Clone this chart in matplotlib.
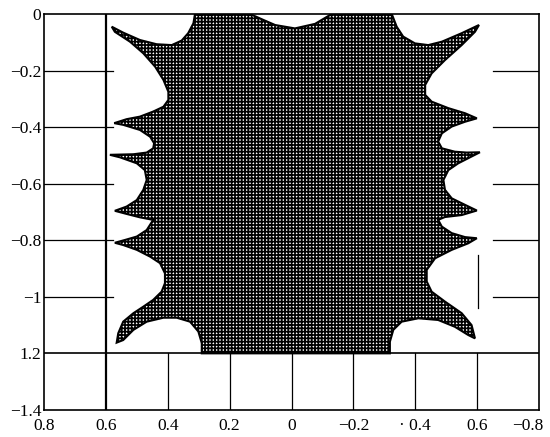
import matplotlib
matplotlib.use("Agg")
from matplotlib import pyplot as plt
from matplotlib.transforms import ScaledTranslation

# boundary of the hatched region
left_x = [0.312, 0.317, 0.334, 0.355, 0.387, 0.436, 0.490, 0.544, 0.581, 0.571, 0.522, 0.479, 0.441, 0.414, 0.398,
          0.398, 0.414, 0.447, 0.490, 0.533, 0.573, 0.544, 0.490, 0.457, 0.444, 0.447, 0.468, 0.511, 0.587, 0.554,
          0.500, 0.474, 0.468, 0.479, 0.500, 0.533, 0.571, 0.533, 0.490, 0.447, 0.468, 0.500, 0.538, 0.571, 0.544,
          0.500, 0.457, 0.425, 0.409, 0.409, 0.420, 0.447, 0.479, 0.511, 0.544, 0.560, 0.565, 0.544, 0.511, 0.468,
          0.414, 0.371, 0.328, 0.301, 0.290, 0.290]
left_y = [0, -0.033, -0.068, -0.094, -0.110, -0.107, -0.092, -0.066, -0.045, -0.063, -0.098, -0.139, -0.186, -0.233,
          -0.275, -0.304, -0.328, -0.345, -0.363, -0.372, -0.386, -0.392, -0.410, -0.434, -0.457, -0.475, -0.490,
          -0.496, -0.498, -0.507, -0.528, -0.552, -0.587, -0.622, -0.658, -0.681, -0.696, -0.707, -0.719, -0.728,
          -0.764, -0.787, -0.799, -0.809, -0.817, -0.834, -0.858, -0.881, -0.917, -0.952, -0.982, -1.011, -1.035,
          -1.058, -1.088, -1.129, -1.162, -1.153, -1.117, -1.088, -1.074, -1.074, -1.088, -1.123, -1.164, -1.2]
right_x = [-0.318, -0.318, -0.329, -0.356, -0.410, -0.474, -0.528, -0.571, -0.593, -0.582, -0.550, -0.496, -0.453,
           -0.437, -0.437, -0.464, -0.518, -0.571, -0.599, -0.561, -0.518, -0.486, -0.474, -0.496, -0.550, -0.599,
           -0.561, -0.518, -0.496, -0.491, -0.507, -0.539, -0.582, -0.609, -0.566, -0.528, -0.486, -0.474, -0.486,
           -0.518, -0.561, -0.599, -0.561, -0.507, -0.453, -0.432, -0.432, -0.453, -0.496, -0.550, -0.593, -0.606,
           -0.550, -0.486, -0.442, -0.399, -0.361, -0.340, -0.324]
right_y = [-1.2, -1.159, -1.117, -1.088, -1.076, -1.082, -1.106, -1.135, -1.147, -1.100, -1.058, -1.017, -0.982,
           -0.946, -0.905, -0.864, -0.834, -0.811, -0.793, -0.789, -0.775, -0.752, -0.728, -0.718, -0.711, -0.695,
           -0.675, -0.652, -0.622, -0.587, -0.552, -0.528, -0.504, -0.489, -0.490, -0.487, -0.475, -0.451, -0.422,
           -0.398, -0.381, -0.369, -0.351, -0.333, -0.310, -0.286, -0.251, -0.210, -0.163, -0.110, -0.063, -0.039,
           -0.068, -0.098, -0.110, -0.104, -0.080, -0.045, 0]
top_x = [-0.130, -0.076, -0.011, 0.053, 0.091, 0.134]
top_y = [0, -0.035, -0.051, -0.039, -0.021, 0]

xticks = [0.8, 0.6, 0.4, 0.2, 0, -0.2, -0.4, -0.6, -0.8]
xlabels = ["0.8", "0.6", "0.4", "0.2", "0", "\u22120.2", "\u00b7 0.4", "0.6", "\u22120.8"]
yticks = [0, -0.2, -0.4, -0.6, -0.8, -1.0, -1.2, -1.4]
ylabels = ["0", "\u22120.2", "\u22120.4", "\u22120.6", "\u22120.8", "\u22121", "1.2", "\u22121.4"]

plt.rcParams['font.family'] = ['Liberation Serif', 'DejaVu Serif']
plt.rcParams['hatch.linewidth'] = 1.25

fig = plt.figure(figsize=(5.5, 4.37), dpi=100)
ax = fig.add_axes([0.08, 0.062, 0.90, 0.906])

xs = left_x + right_x + top_x
ys = left_y + right_y + top_y
ax.fill(xs, ys, facecolor='white', edgecolor='black', hatch='+++++', linewidth=1.5, zorder=2)

# the few grid pieces that show on the scan
ax.plot([0.6, 0.6], [0, -1.4], color='black', lw=1.6, zorder=3)
ax.plot([0.8, -0.8], [-1.2, -1.2], color='black', lw=1.2, zorder=3)
for xv in [0.4, 0.2, 0, -0.2, -0.4, -0.6]:
    ax.plot([xv, xv], [-1.4, -1.2], color='black', lw=0.9, zorder=1)
for yv in [-0.2, -0.4, -0.6, -0.8, -1.0]:
    ax.plot([0.8, 0.578], [yv, yv], color='black', lw=0.9, zorder=1)
    ax.plot([-0.65, -0.8], [yv, yv], color='black', lw=0.9, zorder=1)
ax.plot([-0.602, -0.602], [-0.852, -1.039], color='black', lw=0.9, zorder=1)

ax.set_xlim(0.8, -0.8)
ax.set_ylim(-1.4, 0)
ax.set_xticks(xticks)
ax.set_xticklabels(xlabels)
ax.set_yticks(yticks)
ax.set_yticklabels(ylabels)
ax.tick_params(length=0, labelsize=12.5)
ax.tick_params(axis='x', pad=6)
ax.tick_params(axis='y', pad=2)
for s in ax.spines.values():
    s.set_linewidth(1.2)

# last x label sits a little left on the scan
last = ax.get_xticklabels()[-1]
last.set_transform(last.get_transform() + ScaledTranslation(-8 / 72, 0, fig.dpi_scale_trans))

plt.savefig("out.png", dpi=100)
